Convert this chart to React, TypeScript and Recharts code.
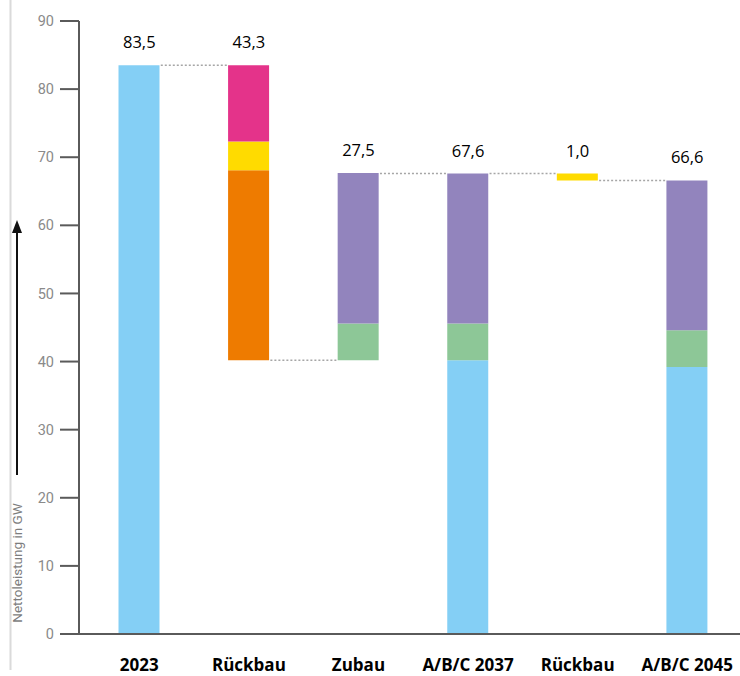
import React from 'react';
import { BarChart, Bar, XAxis, YAxis, ReferenceLine, ReferenceDot } from 'recharts';

// Steps of the waterfall (ids are unique, labels may repeat)
const stepIds = ['2023', 'rb1', 'zubau', '2037', 'rb2', '2045'];
const stepLabels = ['2023', 'Rückbau', 'Zubau', 'A/B/C 2037', 'Rückbau', 'A/B/C 2045'];

// Invisible offset that lifts the floating steps
const offset = [0, 40.2, 40.2, 0, 66.6, 0];

// Stacked segments in GW, bottom to top
const blue = [83.5, 0, 0, 40.2, 0, 39.2];
const orange = [0, 27.9, 0, 0, 0, 0];
const yellow = [0, 4.2, 0, 0, 1.0, 0];
const magenta = [0, 11.2, 0, 0, 0, 0];
const green = [0, 0, 5.4, 5.4, 0, 5.4];
const violet = [0, 0, 22.1, 22.0, 0, 22.0];

// Value written above each step
const totals = [83.5, 43.3, 27.5, 67.6, 1.0, 66.6];

// Height of the dotted bridge between step i and step i+1
const bridgeLevels = [83.5, 40.2, 67.6, 67.6, 66.6];

const yTicks = [0, 10, 20, 30, 40, 50, 60, 70, 80, 90];

const BAR = 41;

const data = stepIds.map((id, i) => ({
  id,
  offset: offset[i],
  blue: blue[i],
  orange: orange[i],
  yellow: yellow[i],
  magenta: magenta[i],
  green: green[i],
  violet: violet[i],
}));

// top of each stack, where its value is written
const tops = stepIds.map((_, i) => offset[i] + totals[i]);

const fmt = (v: number) => v.toFixed(1).replace('.', ',');

const TotalLabel = (props: any) => {
  const vb = props.viewBox || {};
  const x = vb.x + (vb.width || 0) / 2;
  const y = vb.y + (vb.height || 0) / 2;
  return (
    <text x={x} y={y - 17} textAnchor="middle" fill="#000" fontSize={16.5} fontFamily="'Open Sans', sans-serif">
      {props.amount}
    </text>
  );
};

// Axis title with the upward arrow and the thin frame line on the far left
const YAxisTitle = (props: any) => {
  const { y, height } = props.viewBox;
  const bottom = y + height;
  const textCenter = bottom - 71;
  return (
    <g>
      <line x1={10.5} y1={0} x2={10.5} y2={bottom + 36} stroke="#dadada" strokeWidth={2} />
      <text
        x={17}
        y={textCenter}
        transform={`rotate(-90, 17, ${textCenter})`}
        textAnchor="middle"
        dominantBaseline="central"
        fill="#7d7d7d"
        fontSize={13.5}
        fontFamily="Roboto, sans-serif"
      >
        Nettoleistung in GW
      </text>
      <line x1={17} y1={bottom - 159} x2={17} y2={y + 210} stroke="#111" strokeWidth={2} />
      <path d={`M ${12} ${y + 212} L ${22} ${y + 212} L 17 ${y + 199} Z`} fill="#111" />
    </g>
  );
};

const Bridge = (props: any) => {
  const { x1, y1, x2, y2 } = props;
  if (x1 == null || x2 == null) return null;
  return (
    <line
      x1={x1 + BAR / 2 + 1}
      y1={y1}
      x2={x2 - BAR / 2 - 1}
      y2={y2}
      stroke="#a6a6a6"
      strokeWidth={1.5}
      strokeDasharray="2 2"
    />
  );
};

const App: React.FC = () => {
  return (
    <div style={{ position: 'absolute', left: 0, top: 0, width: 740, height: 676, overflow: 'hidden', background: '#fff' }}>
      <BarChart width={744} height={676} data={data} margin={{ top: 21, right: 0, bottom: 0, left: 0 }} barSize={BAR}>
        <XAxis
          dataKey="id"
          padding={{ left: 5.5, right: 2 }}
          height={42}
          tickFormatter={(v: string) => stepLabels[stepIds.indexOf(v)]}
          tick={{ fill: '#000', fontSize: 17, fontWeight: 700, fontFamily: "'Open Sans', sans-serif" }}
          tickLine={false}
          tickSize={0}
          tickMargin={25}
          axisLine={{ stroke: '#5a5a5a', strokeWidth: 2 }}
          interval={0}
        />
        <YAxis
          type="number"
          domain={[0, 90]}
          ticks={yTicks}
          width={79}
          tickSize={19}
          tickMargin={6}
          tick={{ fill: '#8a8a8a', fontSize: 14.5, fontFamily: 'Roboto, sans-serif' }}
          tickLine={{ stroke: '#5a5a5a', strokeWidth: 2 }}
          axisLine={{ stroke: '#5a5a5a', strokeWidth: 2 }}
          label={<YAxisTitle />}
        />
        {bridgeLevels.map((lvl, i) => (
          <ReferenceLine
            key={i}
            segment={[
              { x: stepIds[i], y: lvl },
              { x: stepIds[i + 1], y: lvl },
            ]}
            ifOverflow="visible"
            shape={<Bridge />}
          />
        ))}
        <Bar dataKey="offset" stackId="w" fill="transparent" isAnimationActive={false} />
        <Bar dataKey="blue" stackId="w" fill="#84cff5" isAnimationActive={false} />
        <Bar dataKey="orange" stackId="w" fill="#ee7b00" isAnimationActive={false} />
        <Bar dataKey="yellow" stackId="w" fill="#ffdb00" isAnimationActive={false} />
        <Bar dataKey="magenta" stackId="w" fill="#e4338a" isAnimationActive={false} />
        <Bar dataKey="green" stackId="w" fill="#8dc797" isAnimationActive={false} />
        <Bar dataKey="violet" stackId="w" fill="#9284bd" isAnimationActive={false} />
        {stepIds.map((id, i) => (
          <ReferenceDot
            key={id}
            x={id}
            y={tops[i]}
            r={0}
            fill="none"
            stroke="none"
            ifOverflow="visible"
            label={<TotalLabel amount={fmt(totals[i])} />}
          />
        ))}
      </BarChart>
    </div>
  );
};

export default App;
